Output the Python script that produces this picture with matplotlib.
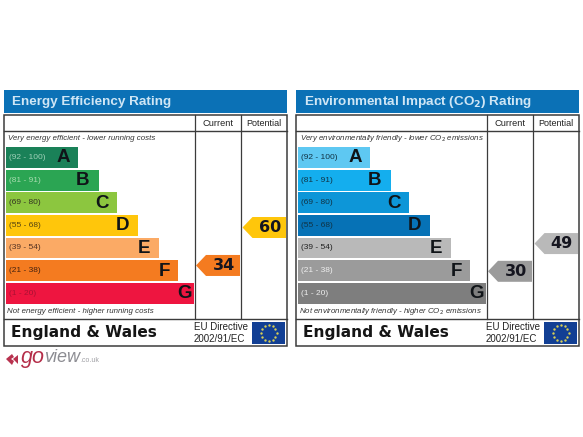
import numpy as np
import matplotlib
matplotlib.use("Agg")
import matplotlib.pyplot as plt
from matplotlib.patches import Polygon, Rectangle

plt.rcParams['font.family'] = ['Liberation Sans', 'DejaVu Sans']

bands = ['A', 'B', 'C', 'D', 'E', 'F', 'G']
ranges = ['(92 - 100)', '(81 - 91)', '(69 - 80)', '(55 - 68)', '(39 - 54)', '(21 - 38)', '(1 - 20)']
bar_lengths = [72, 93, 111, 132, 153, 172, 188]
letter_insets = [8, 10, 8, 9, 9, 8, 2]
energy_colors = ['#1a8158', '#2ba553', '#8cc63f', '#ffc60b', '#fbaa65', '#f47b20', '#ee1540']
env_colors = ['#5ec8f2', '#14aeee', '#0d96d8', '#0672b6', '#b9b9b9', '#9b9b9b', '#7e7e7e']
energy_range_colors = ['#9fd0b8', '#a9dcb0', '#333322', '#554411', '#553322', '#442211', '#aa1133']
env_range_colors = ['#113344', '#113344', '#113344', '#113344', '#222222', '#eeeeee', '#eeeeee']
titles = ['Energy Efficiency Rating', 'Environmental Impact (CO$_{\\mathbf{2}}$) Rating']
top_notes = ['Very energy efficient - lower running costs', 'Very environmentally friendly - lower CO$_2$ emissions']
bottom_notes = ['Not energy efficient - higher running costs', 'Not environmentally friendly - higher CO$_2$ emissions']
current_scores = [34, 30]
potential_scores = [60, 49]
current_colors = ['#f47b20', '#9b9b9b']
potential_colors = ['#ffc60b', '#b9b9b9']
panel_offsets = [0, 292]

fig = plt.figure(figsize=(5.83, 4.37), dpi=100, facecolor='white')
ax = fig.add_axes([0, 0, 1, 1])
ax.set_xlim(0, 583)
ax.set_ylim(437, 0)
ax.axis('off')

LINE = '#3c3c3c'


def score_y(score):
    return 227.5 + (60 - score) * 1.46


def arrow(x0, x1, yc, color, score):
    h = 10.5
    ax.add_patch(Polygon([(x0, yc), (x0 + 10, yc - h), (x1, yc - h), (x1, yc + h), (x0 + 10, yc + h)],
                         closed=True, fc=color, ec='none', zorder=3))
    ax.text((x0 + x1) / 2 + 5.5, yc, str(score), fontsize=11.5, fontweight='bold', color='#15151f',
            ha='center', va='center', zorder=4, fontfamily='DejaVu Sans')


for p, off in enumerate(panel_offsets):
    L, R = 4 + off, 287 + off
    c1, c2 = 195 + off, 241 + off
    ax.add_patch(Rectangle((L, 90), R - L, 23, fc='#0b71b6', ec='none'))
    ax.text(L + 8, 101.5, titles[p], fontsize=9.7, fontweight='bold', color='#cfe6f5', va='center', ha='left')
    ax.add_patch(Rectangle((L, 115), R - L, 231, fc='white', ec=LINE, lw=1.1))
    ax.plot([L, R], [131, 131], color=LINE, lw=1.0)
    ax.plot([L, R], [319, 319], color=LINE, lw=1.0)
    ax.plot([c1, c1], [115, 319], color=LINE, lw=0.9)
    ax.plot([c2, c2], [115, 319], color=LINE, lw=0.9)
    ax.text((c1 + c2) / 2, 124, 'Current', fontsize=6.7, color='#222222', ha='center', va='center')
    ax.text((c2 + R) / 2, 124, 'Potential', fontsize=6.5, color='#222222', ha='center', va='center')
    ax.text(L + 3.5, 139, top_notes[p], fontsize=5.65, style='italic', color='#333333', ha='left', va='center')
    ax.text(L + 3, 311.5, bottom_notes[p], fontsize=5.65, style='italic', color='#333333', ha='left', va='center')

    colors = energy_colors if p == 0 else env_colors
    range_colors = energy_range_colors if p == 0 else env_range_colors
    ys = 157.5 + 22.6 * np.arange(len(bands))
    left = L + 2
    ax.barh(ys, bar_lengths, left=left, height=20.8, color=colors, edgecolor='none', zorder=2)
    for y, band, rng, rc, ln, ins in zip(ys, bands, ranges, range_colors, bar_lengths, letter_insets):
        ax.text(left + 3, y, rng, fontsize=6.0, color=rc, ha='left', va='center', zorder=3)
        ax.text(left + ln - ins, y + 0.5, band, fontsize=13.5, fontweight='bold', color='#101418',
                ha='right', va='center', zorder=3)

    arrow(c1 + 1, c2 - 1, score_y(current_scores[p]), current_colors[p], current_scores[p])
    arrow(c2 + 1.5, R - 1, score_y(potential_scores[p]), potential_colors[p], potential_scores[p])

    ax.text(L + 7, 333, 'England & Wales', fontsize=11.1, fontweight='bold', color='#151515',
            ha='left', va='center', fontfamily='DejaVu Sans')
    ax.text(c1 - 1, 327.5, 'EU Directive', fontsize=7.0, color='#222222', ha='left', va='center')
    ax.text(c1 - 1, 339, '2002/91/EC', fontsize=7.0, color='#222222', ha='left', va='center')
    ax.add_patch(Rectangle((252 + off, 322), 33, 22, fc='#123f94', ec='none', zorder=2))
    th = np.deg2rad(np.arange(0, 360, 30))
    ax.scatter(268.5 + off + 8 * np.cos(th), 333 + 8 * np.sin(th), s=3, c='#d8cf55',
               marker='o', linewidths=0, zorder=3)

# goview logo
ax.add_patch(Polygon([(6, 359), (12, 354), (14, 357), (11, 359), (14, 361), (12, 365)],
                     closed=True, fc='#b8324f', ec='none'))
ax.add_patch(Polygon([(13, 359), (18, 355), (18, 364)], closed=True, fc='#b8324f', ec='none'))
ax.text(20.5, 358, 'go', fontsize=15.5, style='italic', color='#b52f4a', ha='left', va='center')
ax.text(44.5, 357.5, 'view', fontsize=13, style='italic', color='#8c8c92', ha='left', va='center')
ax.text(80, 361, '.co.uk', fontsize=5, color='#a0a0a5', ha='left', va='center')

fig.savefig('out.png', dpi=100, facecolor='white')
